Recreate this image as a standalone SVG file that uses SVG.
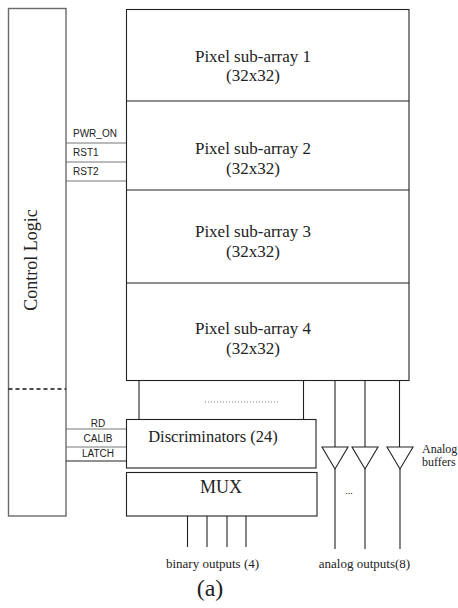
<svg xmlns="http://www.w3.org/2000/svg" width="458" height="608" viewBox="0 0 458 608">
<style>
.box{fill:none;stroke:#222;stroke-width:1.1}
.gbox{fill:none;stroke:#6a6a6a;stroke-width:1.4}
.ln{stroke:#222;stroke-width:1.1;fill:none}
.gln{stroke:#777;stroke-width:1.1;fill:none}
.serif{font-family:"Liberation Serif","Times New Roman",serif;fill:#222}
.sans{font-family:"Liberation Sans",Arial,sans-serif;fill:#222;font-size:10px}
.big{font-size:17px}
</style>
<rect width="458" height="608" fill="#fff"/>
<g id="control-logic">
<rect class="gbox" x="8.5" y="8.5" width="57.5" height="507.5"/>
<text class="serif" font-size="18" transform="translate(37,260) rotate(-90)" text-anchor="middle">Control Logic</text>
<line x1="8.5" y1="389" x2="66" y2="389" stroke="#111" stroke-width="1.6" stroke-dasharray="4,3"/>
</g>
<g id="pixel-array">
<rect class="box" x="126.5" y="9.5" width="282.5" height="371"/>
<line class="ln" x1="126.5" y1="101" x2="409" y2="101"/>
<line class="ln" x1="126.5" y1="190" x2="409" y2="190"/>
<line class="ln" x1="126.5" y1="283" x2="409" y2="283"/>
</g>
<g id="sub-array-1"><text class="serif big" text-anchor="middle" x="253" y="62">Pixel sub-array 1</text><text class="serif big" text-anchor="middle" x="253" y="81">(32x32)</text></g>
<g id="sub-array-2"><text class="serif big" text-anchor="middle" x="253" y="154">Pixel sub-array 2</text><text class="serif big" text-anchor="middle" x="253" y="174">(32x32)</text></g>
<g id="sub-array-3"><text class="serif big" text-anchor="middle" x="253" y="237">Pixel sub-array 3</text><text class="serif big" text-anchor="middle" x="253" y="257">(32x32)</text></g>
<g id="sub-array-4"><text class="serif big" text-anchor="middle" x="253" y="334">Pixel sub-array 4</text><text class="serif big" text-anchor="middle" x="253" y="354">(32x32)</text></g>
<g id="discriminators">
<rect class="box" x="126.5" y="419.5" width="189.5" height="48.5"/>
<text class="serif" font-size="16.5" text-anchor="middle" x="213" y="442">Discriminators (24)</text>
</g>
<g id="mux">
<rect class="box" x="126.5" y="472.5" width="190.5" height="43.5"/>
<text class="serif" font-size="18" text-anchor="middle" x="221" y="493">MUX</text>
</g>
<g id="buffer-1"><polygon class="box" points="322,447 348,447 335,469"/></g>
<g id="buffer-2"><polygon class="box" points="352,447 378,447 365,469"/></g>
<g id="buffer-3"><polygon class="box" points="387,447 413,447 400,469"/></g>
<g id="connectors">
<line class="gln" x1="66" y1="143" x2="126" y2="143"/>
<line class="gln" x1="66" y1="162" x2="126" y2="162"/>
<line class="gln" x1="66" y1="181" x2="126" y2="181"/>
<line class="gln" x1="66" y1="429" x2="126" y2="429"/>
<line class="gln" x1="66" y1="447" x2="126" y2="447"/>
<line class="ln" x1="66" y1="461" x2="126" y2="461"/>
<line class="ln" x1="139" y1="381" x2="139" y2="419"/>
<line class="ln" x1="303.5" y1="381" x2="303.5" y2="419"/>
<line x1="205" y1="402" x2="280" y2="402" stroke="#555" stroke-width="0.8" stroke-dasharray="1,2"/>
<line class="ln" x1="335" y1="381" x2="335" y2="447"/>
<line class="ln" x1="365" y1="381" x2="365" y2="447"/>
<line class="ln" x1="399.5" y1="381" x2="399.5" y2="447"/>
<line class="ln" x1="335" y1="469" x2="335" y2="549"/>
<line class="ln" x1="365" y1="469" x2="365" y2="549"/>
<line class="ln" x1="400" y1="469" x2="400" y2="549"/>
<line class="ln" x1="187.5" y1="516" x2="187.5" y2="547"/>
<line class="ln" x1="207" y1="516" x2="207" y2="547"/>
<line class="ln" x1="227" y1="516" x2="227" y2="547"/>
<line class="ln" x1="246" y1="516" x2="246" y2="547"/>
</g>
<g id="labels">
<text class="sans" x="73" y="137">PWR_ON</text>
<text class="sans" x="73" y="156">RST1</text>
<text class="sans" x="73" y="175">RST2</text>
<text class="sans" x="98" y="427" text-anchor="middle">RD</text>
<text class="sans" x="98" y="442" text-anchor="middle">CALIB</text>
<text class="sans" x="98" y="457" text-anchor="middle">LATCH</text>
<text class="serif" font-size="12" x="422" y="453">Analog</text>
<text class="serif" font-size="12" x="422" y="466">buffers</text>
<text class="serif" font-size="10" x="349" y="494" text-anchor="middle" fill="#555">...</text>
<text class="serif" font-size="13" x="212.5" y="568" text-anchor="middle">binary outputs (4)</text>
<text class="serif" font-size="13" x="364.5" y="568" text-anchor="middle">analog outputs(8)</text>
<text class="serif" font-size="24" x="210" y="596" text-anchor="middle">(a)</text>
</g>
</svg>
